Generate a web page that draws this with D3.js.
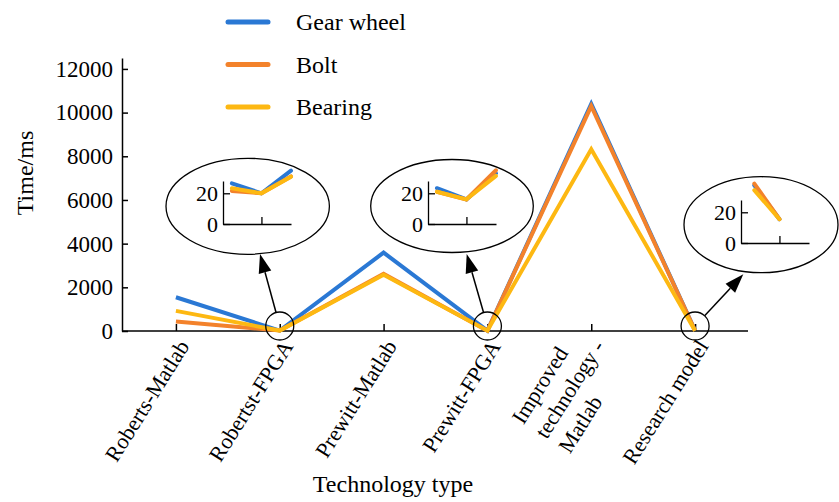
<!DOCTYPE html>
<html lang="en">
  <head>
    <meta charset="utf-8">
    <title>Time by technology type</title>
    <style>
      body { margin: 0; background: #fff; }
    </style>
    <script type="text/javascript" src="https://cdn.jsdelivr.net/npm/d3@7/dist/d3.min.js"></script>
  </head>
  <body>
    <script>
// data
var categories = ["Roberts-Matlab", "Robertst-FPGA", "Prewitt-Matlab", "Prewitt-FPGA", "Improved technology - Matlab", "Research model"];
var tickLabels = [["Roberts-Matlab"], ["Robertst-FPGA"], ["Prewitt-Matlab"], ["Prewitt-FPGA"], ["Improved", "technology  -", "Matlab"], ["Research model"]];
var gearWheel = [1545, 20, 3590, 16, 10400, 15.5];
var bolt = [430, 20, 2615, 16, 10300, 15.5];
var bearing = [920, 20, 2580, 16, 8320, 15.5];
var yTicks = [0, 2000, 4000, 6000, 8000, 10000, 12000];

// zoomed insets (values near the FPGA / research points)
var insetX = [-1, 0, 1];
var insetX3 = [-0.85, 0];
var insetGear1 = [26.5, 20, 34.7], insetBolt1 = [21.5, 20, 31], insetBearing1 = [23.3, 20, 30.8];
var insetGear2 = [23.3, 16, 33], insetBolt2 = [21, 16, 35], insetBearing2 = [21, 16, 31.3];
var insetGear3 = [37.5, 15.5], insetBolt3 = [38.7, 15.5], insetBearing3 = [34.4, 15.5];
var insetTicks = [0, 20];

var seriesNames = ["Gear wheel", "Bolt", "Bearing"];
var colors = ["#2a78d4", "#f3822b", "#fdb812"];

function serif(sel, size) {
    return sel.attr("font-family", "Liberation Serif")
        .style("font-family", "'Liberation Serif'")
        .style("font-size", (size || 22) + "px")
        .style("fill", "#000");
}

var svg = d3.select("body").append("svg").attr("width", 839).attr("height", 502);

var xScale = d3.scalePoint().domain(categories).range([124, 747]).padding(0.5);
var yScale = d3.scaleLinear().domain([0, 12500]).range([331, 58]);

//axes
var yAxis = svg.append("g")
    .attr("transform", "translate(122,0)")
    .call(d3.axisLeft(yScale).tickValues(yTicks).tickFormat(d3.format("d")).tickSize(-6).tickSizeOuter(0).tickPadding(9));
yAxis.attr("font-family", null).attr("font-size", null);
serif(yAxis.selectAll("text"), 23);
yAxis.selectAll("path, line").attr("stroke", "#000").attr("stroke-width", 1.5);

var xAxis = svg.append("g")
    .attr("transform", "translate(0,331)")
    .call(d3.axisBottom(xScale).tickSize(-7).tickSizeOuter(0).tickFormat(""));
xAxis.select(".domain").attr("d", "M122,0H748");
xAxis.selectAll("path, line").attr("stroke", "#000").attr("stroke-width", 1.5);

// rotated category labels
var labels = svg.append("g").selectAll("g")
    .data(tickLabels)
    .enter()
    .append("g")
    .attr("transform", function(d, i) { return "translate(" + (xScale(categories[i]) + 1) + ",338) rotate(-58)"; });
labels.each(function(lines) {
    var g = d3.select(this);
    if (lines.length == 1) {
        serif(g.append("text").attr("text-anchor", "end").attr("dy", "0.7em").text(lines[0]));
    } else {
        var mid = serif(g.append("text").attr("text-anchor", "end").attr("dy", "0.7em").text(lines[1]));
        var len = mid.node().getComputedTextLength();
        serif(g.append("text").attr("x", -len).attr("y", -27.5).attr("dy", "0.7em").text(lines[0]));
        serif(g.append("text").attr("x", -len).attr("y", 27.5).attr("dy", "0.7em").text(lines[2]));
    }
});

serif(svg.append("text")
    .attr("transform", "translate(33,173) rotate(-90)")
    .attr("text-anchor", "middle")
    .text("Time/ms"), 24);
serif(svg.append("text")
    .attr("x", 393)
    .attr("y", 492)
    .attr("text-anchor", "middle")
    .text("Technology type"), 24);

//lines
var line = d3.line()
    .x(function(d, i) { return xScale(categories[i]); })
    .y(function(d) { return yScale(d); });
[gearWheel, bolt, bearing].forEach(function(vals, k) {
    svg.append("path")
        .datum(vals)
        .attr("fill", "none")
        .attr("stroke", colors[k])
        .attr("stroke-width", 4)
        .attr("d", line);
});

//legend
var legend = svg.append("g").selectAll("g")
    .data(seriesNames)
    .enter()
    .append("g")
    .attr("transform", function(d, i) { return "translate(0," + (22 + i * 42.5) + ")"; });
legend.append("line")
    .attr("x1", 228).attr("x2", 268)
    .attr("stroke", function(d, i) { return colors[i]; })
    .attr("stroke-width", 5)
    .attr("stroke-linecap", "round");
serif(legend.append("text")
    .attr("x", 296)
    .attr("dy", "0.35em")
    .text(function(d) { return d; }), 24);

// zoom insets
var insets = [
    {cat: 1, ox: 223, oy: 224, ell: [247.7, 206.3, 81.7, 48], tip: [260, 254], xs: insetX, vals: [insetGear1, insetBolt1, insetBearing1]},
    {cat: 3, ox: 428, oy: 224, ell: [452, 206, 81.3, 46.5], tip: [466.7, 254], xs: insetX, vals: [insetGear2, insetBolt2, insetBearing2]},
    {cat: 5, ox: 741, oy: 243, ell: [761, 224.7, 77, 48], tip: [743.3, 274.3], xs: insetX3, vals: [insetGear3, insetBolt3, insetBearing3]}
];

insets.forEach(function(c) {
    var g = svg.append("g");
    g.append("ellipse")
        .attr("cx", c.ell[0]).attr("cy", c.ell[1])
        .attr("rx", c.ell[2]).attr("ry", c.ell[3])
        .attr("fill", "none").attr("stroke", "#000").attr("stroke-width", 1.3);

    var ix = d3.scaleLinear().domain([-1.3, 1]).range([c.ox, c.ox + 68]);
    var iy = d3.scaleLinear().domain([0, 28]).range([c.oy, c.oy - 43]);

    var ya = g.append("g").attr("transform", "translate(" + c.ox + ",0)")
        .call(d3.axisLeft(iy).tickValues(insetTicks).tickSize(-7).tickSizeOuter(0).tickPadding(5));
    ya.attr("font-family", null).attr("font-size", null);
    serif(ya.selectAll("text"));
    g.append("g").attr("transform", "translate(0," + c.oy + ")")
        .call(d3.axisBottom(ix).tickValues([0]).tickSize(-7).tickSizeOuter(0).tickFormat(""));
    g.selectAll("path, line").attr("stroke", "#000").attr("stroke-width", 1.3);

    var iline = d3.line()
        .x(function(d, i) { return ix(c.xs[i]); })
        .y(function(d) { return iy(d); });
    c.vals.forEach(function(vals, k) {
        g.append("path")
            .datum(vals)
            .attr("fill", "none")
            .attr("stroke", colors[k])
            .attr("stroke-width", 4)
            .attr("stroke-linecap", "round")
            .attr("d", iline);
    });

    // small circle on the main chart + arrow
    var cx = xScale(categories[c.cat]), cy = yScale(0) - 5, r = 14;
    svg.append("circle")
        .attr("cx", cx).attr("cy", cy).attr("r", r)
        .attr("fill", "none").attr("stroke", "#000").attr("stroke-width", 1.3);
    var dx = c.tip[0] - cx, dy = c.tip[1] - cy, len = Math.sqrt(dx * dx + dy * dy);
    var ux = dx / len, uy = dy / len;
    var sx = cx + ux * r, sy = cy + uy * r;
    var bx = c.tip[0] - ux * 19, by = c.tip[1] - uy * 19;
    svg.append("line")
        .attr("x1", sx).attr("y1", sy).attr("x2", bx).attr("y2", by)
        .attr("stroke", "#000").attr("stroke-width", 1.5);
    svg.append("polygon")
        .attr("points", [[c.tip[0], c.tip[1]], [bx - uy * 6.5, by + ux * 6.5], [bx + uy * 6.5, by - ux * 6.5]].join(" "))
        .attr("fill", "#000");
});

    </script>
  </body>
</html>
